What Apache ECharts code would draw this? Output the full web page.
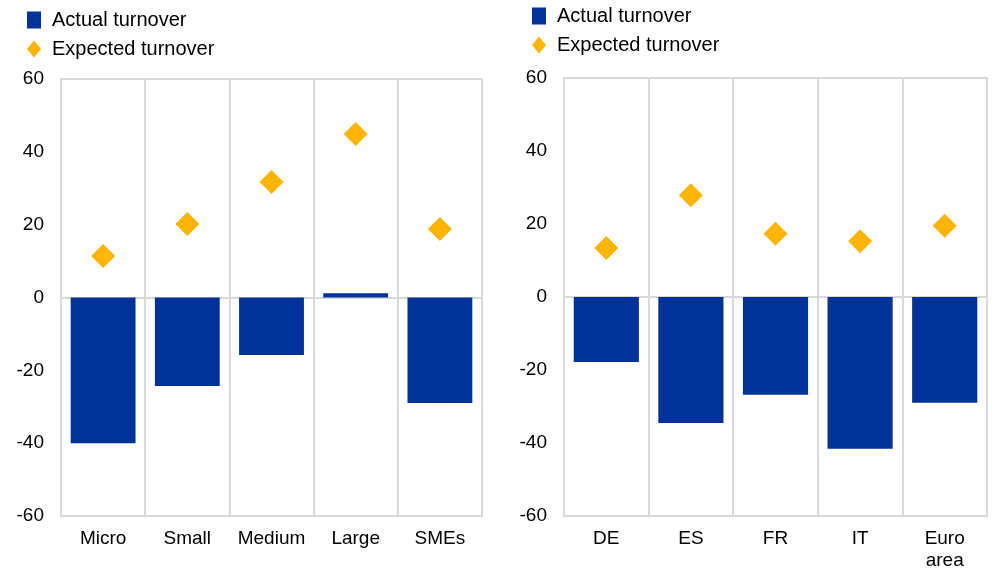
<!DOCTYPE html>
<html><head><meta charset="utf-8">
<script src="https://cdn.jsdelivr.net/npm/echarts@6/dist/echarts.min.js"></script>
<style>html,body{margin:0;padding:0;background:#fff}#c{width:992px;height:573px}</style>
</head><body><div id="c"></div>
<script>
const sizeCategories = ['Micro', 'Small', 'Medium', 'Large', 'SMEs'];
const sizeActual = [-40, -24.3, -15.8, 1.2, -29];
const sizeExpected = [11.4, 20.2, 31.7, 44.9, 18.8];
const countryCategories = ['DE', 'ES', 'FR', 'IT', 'Euro\narea'];
const countryActual = [-17.8, -34.5, -26.8, -41.6, -29];
const countryExpected = [13.4, 27.9, 17.3, 15.3, 19.5];
const yTicks = { min: -60, max: 60, interval: 20 };
const seriesNames = ['Actual turnover', 'Expected turnover'];

const BLUE = '#003299', YELLOW = '#FFB400', GRID = '#d9d9d9';
const FONT = 'Liberation Sans, Arial, sans-serif';

function xAx(idx, cats) {
  return {
    type: 'category', gridIndex: idx, data: cats, boundaryGap: true,
    axisLine: { show: false }, axisTick: { show: false },
    splitLine: { show: true, lineStyle: { color: GRID, width: 2 } },
    axisLabel: { color: '#000', fontSize: 19, fontFamily: FONT, margin: 12, interval: 0, lineHeight: 22, verticalAlign: 'top' }
  };
}
function yAx(idx) {
  return {
    type: 'value', gridIndex: idx, min: yTicks.min, max: yTicks.max, interval: yTicks.interval,
    axisLine: { show: false }, axisTick: { show: false }, splitLine: { show: false },
    axisLabel: { color: '#000', fontSize: 19, fontFamily: FONT, margin: 17 }
  };
}
function barS(idx, data) {
  return {
    name: seriesNames[0], type: 'bar', xAxisIndex: idx, yAxisIndex: idx, data: data,
    barCategoryGap: '23%', itemStyle: { color: BLUE }, silent: true,
    markLine: { silent: true, symbol: 'none', label: { show: false }, lineStyle: { color: GRID, width: 2, type: 'solid' }, data: [{ yAxis: 0 }], z: 1 }
  };
}
function dotS(idx, data) {
  return {
    name: seriesNames[1], type: 'scatter', xAxisIndex: idx, yAxisIndex: idx, data: data,
    symbol: 'diamond', symbolSize: 24, itemStyle: { color: YELLOW, opacity: 1 }, z: 5
  };
}
function legend(left, top) {
  return {
    left: left, top: top, orient: 'vertical', itemGap: 9, itemWidth: 14, itemHeight: 17,
    textStyle: { color: '#000', fontSize: 20, fontFamily: FONT, padding: [0, 0, 0, 6] },
    data: [{ name: seriesNames[0], icon: 'rect' }, { name: seriesNames[1], icon: 'diamond' }],
    selectedMode: false
  };
}

const chart = echarts.init(document.getElementById('c'), null, { renderer: 'canvas' });
chart.setOption({
  animation: false,
  backgroundColor: '#fff',
  legend: [legend(22, 5), legend(527, 1)],
  grid: [
    { left: 61, right: 510, top: 79, bottom: 57, show: true, borderColor: GRID, borderWidth: 2, containLabel: false },
    { left: 564, right: 5, top: 78, bottom: 57, show: true, borderColor: GRID, borderWidth: 2, containLabel: false }
  ],
  xAxis: [xAx(0, sizeCategories), xAx(1, countryCategories)],
  yAxis: [yAx(0), yAx(1)],
  series: [barS(0, sizeActual), dotS(0, sizeExpected), barS(1, countryActual), dotS(1, countryExpected)]
});
</script></body></html>
